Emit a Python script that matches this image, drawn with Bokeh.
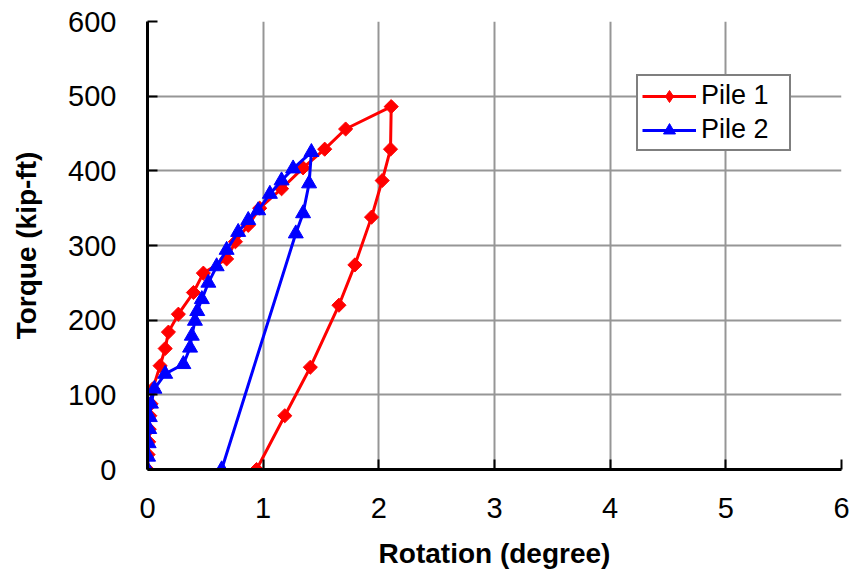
import math
from bokeh.plotting import figure
from bokeh.models import FixedTicker, Legend, LegendItem, Range1d
from bokeh.embed import file_html
from bokeh.resources import INLINE

# Pile 1 (red diamonds): rotation (degree), torque (kip-ft)
pile1_rot = [0.0, 0.005, 0.01, 0.015, 0.02, 0.03, 0.045, 0.109, 0.153, 0.181, 0.267,
             0.397, 0.483, 0.684, 0.76, 0.871, 0.97, 1.159, 1.345, 1.532, 1.713, 2.107,
             2.101, 2.029, 1.937, 1.793, 1.655, 1.408, 1.187, 0.943]
pile1_torque = [0, 20, 37, 54, 72, 88, 108, 139, 162, 184, 208,
                237, 263, 282, 305, 327, 350, 376, 404, 429, 456, 486,
                429, 387, 338, 274, 220, 137, 72, 0]

# Pile 2 (blue triangles)
pile2_rot = [0.0, 0.005, 0.01, 0.015, 0.02, 0.03, 0.06, 0.153, 0.31, 0.368, 0.383,
             0.41, 0.43, 0.47, 0.526, 0.598, 0.684, 0.784, 0.871, 0.957, 1.058,
             1.159, 1.259, 1.417, 1.397, 1.345, 1.282, 0.641]
pile2_torque = [0, 17, 35, 54, 70, 88, 108, 128, 141, 163, 179,
                199, 212, 228, 250, 272, 294, 318, 334, 347, 369,
                387, 403, 425, 383, 343, 316, 0]

x_ticks = [0, 1, 2, 3, 4, 5, 6]
y_ticks = [0, 100, 200, 300, 400, 500, 600]

FONT = "Liberation Sans"

p = figure(width=852, height=571, output_backend="svg", toolbar_location=None,
           x_range=Range1d(0, 6), y_range=Range1d(0, 600),
           min_border_left=147, min_border_right=11, min_border_top=21,
           min_border_bottom=100)
p.outline_line_color = None
p.background_fill_color = "white"
p.border_fill_color = "white"

# grid
for g in (p.xgrid, p.ygrid):
    g.grid_line_color = "#969696"
    g.grid_line_width = 2
p.xgrid.ticker = FixedTicker(ticks=x_ticks)
p.ygrid.ticker = FixedTicker(ticks=y_ticks)

# axes
for ax in (p.xaxis, p.yaxis):
    ax.axis_line_color = "black"
    ax.axis_line_width = 3
    ax.major_tick_line_color = "black"
    ax.major_tick_line_width = 2
    ax.major_tick_in = 10
    ax.major_tick_out = 0
    ax.minor_tick_line_color = None
    ax.major_label_text_font = FONT
    ax.major_label_text_font_size = "29px"
    ax.major_label_text_color = "black"
    ax.axis_label_text_font = FONT
    ax.axis_label_text_font_style = "bold"
    ax.axis_label_text_font_size = "28px"
    ax.axis_label_text_color = "black"

p.xaxis.ticker = FixedTicker(ticks=x_ticks)
p.yaxis.ticker = FixedTicker(ticks=y_ticks)
p.xaxis.axis_label = "Rotation (degree)"
p.yaxis.axis_label = "Torque (kip-ft)"
p.xaxis.major_label_standoff = 28
p.yaxis.major_label_standoff = 31
p.xaxis.axis_label_standoff = 17
p.yaxis.axis_label_standoff = 23

r1l = p.line(pile1_rot, pile1_torque, line_color="#FF0000", line_width=3)
r1m = p.scatter(pile1_rot, pile1_torque, marker="square", angle=math.pi / 4, size=10,
                fill_color="#FF0000", line_color="#FF0000")
r2l = p.line(pile2_rot, pile2_torque, line_color="#0000FF", line_width=3)
r2m = p.scatter(pile2_rot, pile2_torque, marker="triangle", size=15,
                fill_color="#0000FF", line_color="#0000FF")

# legend-only diamond symbol (no visible data)
r1leg = p.scatter([math.nan], [math.nan], marker="diamond", size=16,
                  fill_color="#FF0000", line_color="#FF0000")

legend = Legend(items=[LegendItem(label="Pile 1", renderers=[r1l, r1leg]),
                       LegendItem(label="Pile 2", renderers=[r2l, r2m])],
                location=(489, 318), orientation="vertical")
legend.border_line_color = "black"
legend.border_line_width = 2
legend.background_fill_color = "white"
legend.background_fill_alpha = 1
legend.label_text_font = FONT
legend.label_text_font_size = "27px"
legend.label_text_color = "black"
legend.glyph_width = 54
legend.glyph_height = 30
legend.label_height = 30
legend.label_width = 84
legend.label_standoff = 5
legend.spacing = 3
legend.padding = 4
legend.margin = 0
legend.label_text_baseline = "middle"
p.add_layout(legend, "center")

open("out.html", "w").write(file_html(p, INLINE))
